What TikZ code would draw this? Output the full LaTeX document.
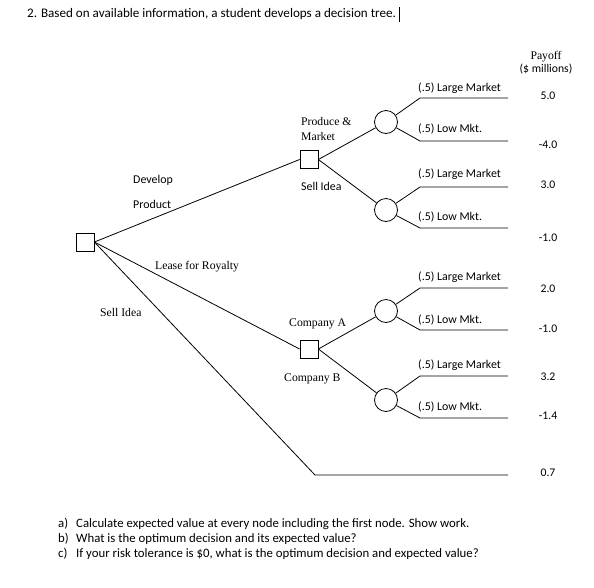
\documentclass[tikz,border=0pt]{standalone}
\usepackage{fontspec}
\setmainfont{Carlito}
\newfontfamily\tnr{Liberation Serif}
\begin{document}
\begin{tikzpicture}[x=1pt,y=-1pt,
  dec/.style={draw, rectangle, minimum size=18pt, inner sep=0pt, line width=0.8pt},
  chance/.style={draw, circle, minimum size=23pt, inner sep=0pt, line width=0.8pt},
  conn/.style={line width=0.8pt},
  lbl/.style={font=\fontsize{11.9}{14}\selectfont, inner sep=0pt, anchor=base west},
  slbl/.style={font=\tnr\fontsize{11.7}{14}\selectfont, inner sep=0pt, anchor=base west},
  pay/.style={font=\fontsize{11.7}{14}\selectfont, inner sep=0pt, anchor=base},
  qlbl/.style={font=\fontsize{12.8}{15}\selectfont, inner sep=0pt, anchor=base west},
  ttl/.style={font=\fontsize{13.1}{15}\selectfont, inner sep=0pt, anchor=base west}]
\useasboundingbox (0,0) rectangle (594,587);
\fill[white] (0,0) rectangle (594,587);

% title
\node[ttl] (title) at (27,17.5) {2. Based on available information, a student develops a decision tree.};
\coordinate (cur1) at ([xshift=3pt]title.east |- 0,7);
\coordinate (cur2) at ([xshift=3pt]title.east |- 0,22);
\draw[line width=0.8pt] (cur1) -- (cur2);

% header
\node[font=\tnr\fontsize{11.7}{14}\selectfont, inner sep=0pt, anchor=base] (payh) at (546,59) {Payoff};
\node[pay] (payu) at (546,72) {(\$ millions)};

% decision and chance nodes
\node[dec] (root) at (85,242) {};
\node[dec] (d1) at (309,159.5) {};
\node[dec] (d2) at (309,349) {};
\node[chance] (c1) at (386,122) {};
\node[chance] (c2) at (386,210) {};
\node[chance] (c3) at (386,311) {};
\node[chance] (c4) at (386,400) {};

% outcome coordinates
\foreach \n/\y in {1/98,2/141,3/187,4/228,5/288,6/330,7/376,8/418,9/475}{
  \coordinate (s\n) at (420,\y);
  \coordinate (e\n) at (508,\y);
}
\coordinate (s9) at (315,475);

% connectors
\draw[conn] (root.east) -- (d1.west);
\draw[conn] (root.east) -- (d2.west);
\draw[conn] (root.east) -- (s9) -- (e9);
\draw[conn] (d1.east) -- (c1);
\draw[conn] (d1.east) -- (c2);
\draw[conn] (d2.east) -- (c3);
\draw[conn] (d2.east) -- (c4);
\draw[conn] (c1) -- (s1) -- (e1);
\draw[conn] (c1) -- (s2) -- (e2);
\draw[conn] (c2) -- (s3) -- (e3);
\draw[conn] (c2) -- (s4) -- (e4);
\draw[conn] (c3) -- (s5) -- (e5);
\draw[conn] (c3) -- (s6) -- (e6);
\draw[conn] (c4) -- (s7) -- (e7);
\draw[conn] (c4) -- (s8) -- (e8);

% branch labels
\node[lbl] (l1) at (418,91) {(.5) Large Market};
\node[lbl] (l2) at (418,132) {(.5) Low Mkt.};
\node[lbl] (l3) at (418,177) {(.5) Large Market};
\node[lbl] (l4) at (418,220) {(.5) Low Mkt.};
\node[lbl] (l5) at (418,280.5) {(.5) Large Market};
\node[lbl] (l6) at (418,323) {(.5) Low Mkt.};
\node[lbl] (l7) at (418,368) {(.5) Large Market};
\node[lbl] (l8) at (418,410) {(.5) Low Mkt.};

% payoffs
\node[pay] (p1) at (548,99) {5.0};
\node[pay] (p2) at (548,148) {-4.0};
\node[pay] (p3) at (548,188) {3.0};
\node[pay] (p4) at (548,241) {-1.0};
\node[pay] (p5) at (548,292) {2.0};
\node[pay] (p6) at (548,332) {-1.0};
\node[pay] (p7) at (548,380) {3.2};
\node[pay] (p8) at (548,419) {-1.4};
\node[pay] (p9) at (548,476) {0.7};

% decision labels
\node[lbl] (dev) at (133,183) {Develop};
\node[lbl] (prod) at (133,208) {Product};
\node[slbl] (lease) at (155,269) {Lease for Royalty};
\node[slbl] (sell) at (100,316.5) {Sell Idea};
\node[slbl] (pm1) at (301,125.5) {Produce \&};
\node[slbl] (pm2) at (301,140) {Market};
\node[lbl] (si) at (301,190) {Sell Idea};
\node[slbl] (ca) at (289,326) {Company A};
\node[slbl] (cb) at (284,381) {Company B};

% questions
\node[qlbl] (qa) at (58,527) {a)};
\node[qlbl] (qat) at (76,527) {Calculate expected value at every node including the first node. Show work.};
\node[qlbl] (qb) at (58,542) {b)};
\node[qlbl] (qbt) at (76,542) {What is the optimum decision and its expected value?};
\node[qlbl] (qc) at (58,557) {c)};
\node[qlbl] (qct) at (76,557) {If your risk tolerance is \$0, what is the optimum decision and expected value?};
\end{tikzpicture}
\end{document}
